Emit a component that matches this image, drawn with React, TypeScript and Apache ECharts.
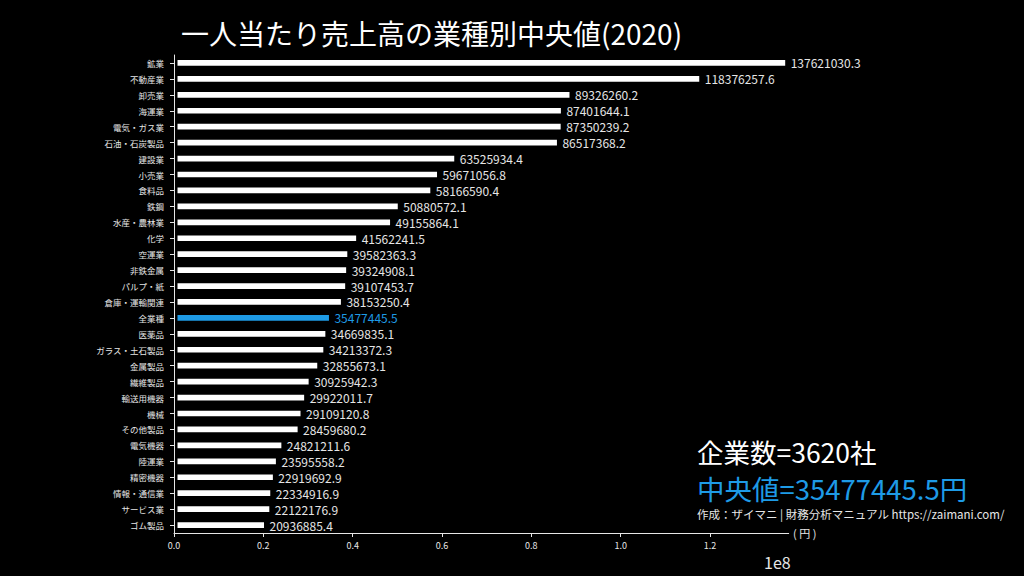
import React, { useEffect, useRef } from "react";
import * as echarts from "echarts";

const categories = [
  "鉱業", "不動産業", "卸売業", "海運業", "電気・ガス業", "石油・石炭製品", "建設業", "小売業",
  "食料品", "鉄鋼", "水産・農林業", "化学", "空運業", "非鉄金属", "パルプ・紙", "倉庫・運輸関連",
  "全業種", "医薬品", "ガラス・土石製品", "金属製品", "繊維製品", "輸送用機器", "機械", "その他製品",
  "電気機器", "陸運業", "精密機器", "情報・通信業", "サービス業", "ゴム製品",
];

const values = [
  137621030.3, 118376257.6, 89326260.2, 87401644.1, 87350239.2, 86517368.2, 63525934.4, 59671056.8,
  58166590.4, 50880572.1, 49155864.1, 41562241.5, 39582363.3, 39324908.1, 39107453.7, 38153250.4,
  35477445.5, 34669835.1, 34213372.3, 32855673.1, 30925942.3, 29922011.7, 29109120.8, 28459680.2,
  24821211.6, 23595558.2, 22919692.9, 22334916.9, 22122176.9, 20936885.4,
];

const highlightCategory = "全業種";
const xTickValues = [0, 20000000, 40000000, 60000000, 80000000, 100000000, 120000000];
const xTickLabels = ["0.0", "0.2", "0.4", "0.6", "0.8", "1.0", "1.2"];

const titleText = "一人当たり売上高の業種別中央値(2020)";
const companyText = "企業数=3620社";
const medianText = "中央値=35477445.5円";
const creditText = "作成：ザイマニ | 財務分析マニュアル https://zaimani.com/";
const unitText = "( 円 )";
const offsetText = "1e8";

const BLUE = "#1e9be6";
const FG = "#e6e6e6";
const FONT = "'Noto Sans CJK JP', 'Noto Sans', sans-serif";

export default function App() {
  const ref = useRef<HTMLDivElement>(null);

  useEffect(() => {
    if (!ref.current) return;
    const chart = echarts.init(ref.current, null, { renderer: "svg" });
    const maxVal = Math.max(...values);

    const data = values.map((v, i) =>
      categories[i] === highlightCategory
        ? { value: v, itemStyle: { color: BLUE }, label: { color: BLUE } }
        : { value: v }
    );

    chart.setOption({
      animation: false,
      backgroundColor: "#000000",
      grid: { left: 174, right: 1024 - 788.7, top: 55, bottom: 43, containLabel: false },
      xAxis: {
        type: "value",
        min: 0,
        max: maxVal,
        z: 10,
        axisLine: { show: true, lineStyle: { color: FG, width: 1 } },
        axisTick: { show: true, length: 4, lineStyle: { color: FG }, customValues: xTickValues },
        axisLabel: {
          color: FG,
          fontSize: 9,
          fontFamily: FONT,
          margin: 8,
          customValues: xTickValues,
          formatter: (v: number) => {
            const idx = xTickValues.indexOf(v);
            return idx >= 0 ? xTickLabels[idx] : "";
          },
        },
        splitLine: { show: false },
      },
      yAxis: {
        type: "category",
        data: categories,
        inverse: true,
        z: 10,
        axisLine: { show: true, lineStyle: { color: FG, width: 1 } },
        axisTick: { show: true, length: 4, alignWithLabel: true, lineStyle: { color: FG } },
        axisLabel: { color: FG, fontSize: 8.5, fontFamily: FONT, margin: 10, lineHeight: 10 },
        splitLine: { show: false },
      },
      series: [
        {
          type: "bar",
          data,
          barWidth: 12.7,
          itemStyle: { color: "#ffffff", borderColor: "#000000", borderWidth: 3.5 },
          label: {
            show: true,
            position: "right",
            distance: 2,
            color: FG,
            fontSize: 12,
            lineHeight: 12,
            fontFamily: FONT,
            formatter: (p: any) => Number(p.value).toFixed(1),
          },
        },
      ],
      graphic: [
        {
          type: "text",
          x: 181,
          y: 33,
          style: { text: titleText, fill: "#ffffff", font: `28px ${FONT}`, textVerticalAlign: "middle" },
        },
        {
          type: "text",
          x: 697,
          y: 451,
          style: { text: companyText, fill: "#ffffff", font: `26.5px ${FONT}`, textVerticalAlign: "middle", lineHeight: 27 },
        },
        {
          type: "text",
          x: 697,
          y: 488,
          style: { text: medianText, fill: BLUE, font: `27.5px ${FONT}`, textVerticalAlign: "middle", lineHeight: 28 },
        },
        {
          type: "text",
          x: 697,
          y: 514,
          style: { text: creditText, fill: FG, font: `11.5px ${FONT}`, textVerticalAlign: "middle", lineHeight: 12 },
        },
        {
          type: "text",
          x: 793,
          y: 533,
          style: { text: unitText, fill: FG, font: `11px ${FONT}`, textVerticalAlign: "middle" },
        },
        {
          type: "text",
          x: 764,
          y: 562,
          style: { text: offsetText, fill: FG, font: `16px ${FONT}`, textVerticalAlign: "middle" },
        },
      ],
    });

    return () => chart.dispose();
  }, []);

  return (
    <div
      ref={ref}
      style={{ position: "absolute", left: 0, top: 0, width: 1024, height: 576, background: "#000" }}
    />
  );
}
